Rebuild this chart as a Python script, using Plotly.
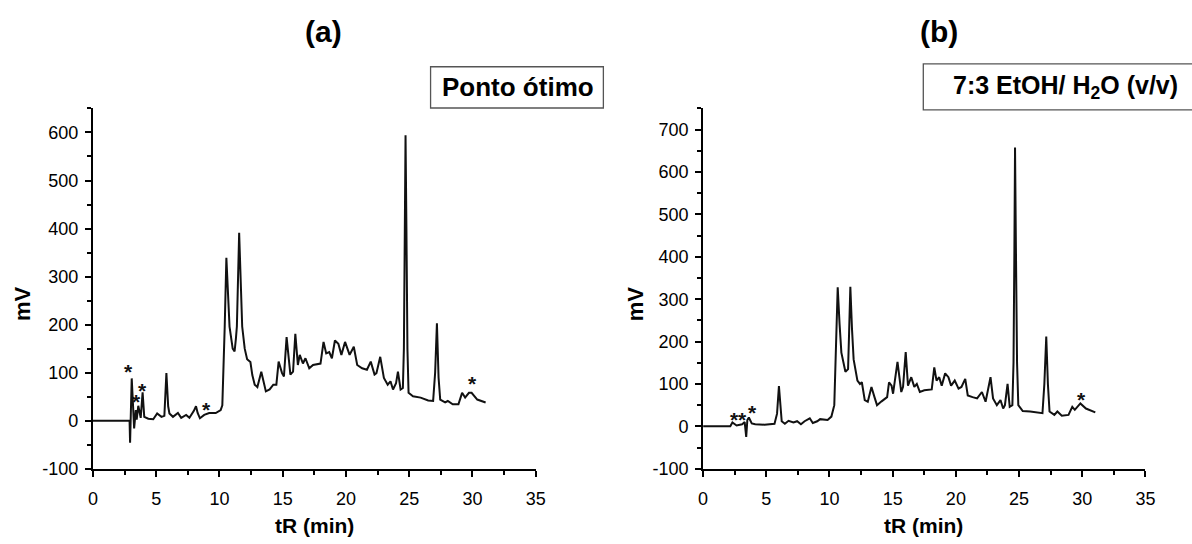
import plotly.graph_objects as go

# Chromatogram (a): optimal extraction point
time_a = [0, 2.9, 2.94, 3.07, 3.26, 3.39, 3.46, 3.59, 3.78, 3.93, 4.06, 4.38, 4.77, 5.08,
          5.42, 5.65, 5.81, 5.95, 6.05, 6.33, 6.72, 6.98, 7.37, 7.63, 7.97, 8.15, 8.28,
          8.46, 8.8, 9.19, 9.71, 10.1, 10.23, 10.33, 10.42, 10.55, 10.68, 10.8, 11.05,
          11.2, 11.3, 11.38, 11.56, 11.68, 11.8, 12.0, 12.19, 12.45, 12.6, 12.79, 13.0,
          13.31, 13.67, 13.97, 14.26, 14.5, 14.68, 14.95, 15.1, 15.31, 15.61, 15.82, 16.0,
          16.2, 16.35, 16.6, 16.8, 17.1, 17.4, 17.99, 18.23, 18.44, 18.68, 18.89, 19.13,
          19.4, 19.64, 19.93, 20.29, 20.62, 20.89, 21.28, 21.66, 21.96, 22.26, 22.41,
          22.71, 23.0, 23.3, 23.52, 23.72, 23.96, 24.11, 24.32, 24.5, 24.58, 24.65, 24.71,
          24.78, 24.86, 24.95, 25.3, 25.9, 26.5, 26.89, 27.05, 27.19, 27.32, 27.45, 27.84,
          28.05, 28.44, 28.89, 29.18, 29.42, 29.72, 29.93, 30.38, 31.04]
signal_a = [0, 0, -46, 88, -16, 22, 2, 31, 6, 59, 8, 4, 3, 15,
            8, 10, 99, 30, 15, 8, 16, 6, 12, 6, 20, 30, 16,
            5, 12, 16, 16, 22, 32, 100, 196, 339, 260, 196, 150,
            144, 170, 196, 391, 280, 196, 150, 128, 122, 95, 75, 70,
            102, 61, 65, 75, 75, 123, 99, 92, 174, 96, 102, 181,
            116, 137, 119, 130, 109, 116, 119, 164, 140, 143, 130, 167,
            160, 137, 164, 137, 154, 116, 109, 106, 123, 96, 99,
            133, 89, 75, 82, 65, 78, 102, 65, 68, 150, 400, 594,
            400, 150, 58, 51, 48, 42, 41, 100, 203, 90, 44, 38,
            41, 34, 34, 58, 48, 58, 58, 44, 38]

# Chromatogram (b): 7:3 EtOH/H2O extract
time_b = [0, 2.15, 2.32, 2.65, 3.09, 3.29, 3.41, 3.5, 3.62, 3.85, 4.12, 4.85, 5.65, 5.85,
          6.0, 6.13, 6.22, 6.47, 6.76, 7.15, 7.44, 7.74, 8.03, 8.44, 8.68, 9.03, 9.26,
          9.85, 10.15, 10.38, 10.5, 10.65, 10.8, 10.94, 11.26, 11.47, 11.55, 11.65, 11.78,
          11.91, 12.21, 12.41, 12.56, 12.79, 13.03, 13.32, 13.56, 13.76, 14.12, 14.41,
          14.56, 14.71, 14.91, 15.03, 15.38, 15.68, 15.82, 16.03, 16.21, 16.47, 16.71,
          16.91, 17.15, 17.5, 18.09, 18.29, 18.47, 18.68, 18.88, 19.15, 19.41, 19.62,
          19.91, 20.21, 20.44, 20.74, 20.94, 21.32, 21.68, 22.06, 22.35, 22.74, 22.94,
          23.24, 23.53, 23.74, 23.88, 24.09, 24.26, 24.47, 24.56, 24.63, 24.68, 24.75,
          24.84, 24.94, 25.29, 25.88, 26.47, 26.85, 27.0, 27.15, 27.28, 27.41, 27.79,
          28.03, 28.38, 28.91, 29.21, 29.41, 29.85, 30.29, 31.03]
signal_b = [0, 0, 9, 2, 5, 10, -25, 15, 21, 7, 5, 4, 6, 30,
            95, 30, 12, 6, 13, 9, 12, 5, 12, 19, 8, 12, 17,
            15, 23, 50, 180, 328, 240, 174, 129, 135, 220, 329, 230,
            158, 108, 100, 104, 62, 58, 93, 69, 50, 59, 66,
            69, 104, 96, 77, 152, 81, 93, 175, 96, 116, 93,
            100, 81, 85, 87, 139, 108, 116, 96, 125, 116, 96,
            108, 89, 93, 112, 73, 69, 66, 81, 58, 116, 66,
            50, 62, 42, 50, 100, 46, 50, 150, 420, 658, 420,
            150, 50, 36, 35, 33, 31, 100, 212, 100, 35, 27,
            35, 25, 27, 46, 39, 54, 42, 33]

# Marked peaks (*)
star_time_a = [2.82, 3.42, 3.92, 8.98, 30.0]
star_signal_a = [111, 49, 71, 32, 85]
star_time_b = [2.45, 3.08, 3.93, 29.94]
star_signal_b = [25, 25, 42, 72]

x_ticks = [0, 5, 10, 15, 20, 25, 30, 35]
y_ticks_a = [-100, 0, 100, 200, 300, 400, 500, 600]
y_ticks_b = [-100, 0, 100, 200, 300, 400, 500, 600, 700]

panel_titles = ["(a)", "(b)"]
panel_labels = ["Ponto ótimo", "7:3 EtOH/ H<sub>2</sub>O (v/v)"]
x_title = "tR (min)"
y_title = "mV"

W, H = 1192, 544
FONT = "Arial, Liberation Sans, sans-serif"
INK = "#111111"


def px_x(p):
    return p / W


def px_y(p):
    return 1 - p / H


fig = go.Figure()
fig.add_trace(go.Scatter(x=time_a, y=signal_a, mode="lines", xaxis="x", yaxis="y",
                         line=dict(color=INK, width=2), showlegend=False))
fig.add_trace(go.Scatter(x=time_b, y=signal_b, mode="lines", xaxis="x2", yaxis="y2",
                         line=dict(color=INK, width=2), showlegend=False))

axis_common = dict(showgrid=False, zeroline=False, showline=True, linecolor="black",
                   linewidth=2, ticks="outside", ticklen=6, tickwidth=1.6, tickcolor="black",
                   tickfont=dict(family=FONT, size=18, color="black"), fixedrange=True)

minor_x = dict(ticks="outside", ticklen=4, tickwidth=1.6, dtick=2.5, tickcolor="black",
               showgrid=False)
minor_y = dict(ticks="outside", ticklen=4, tickwidth=1.6, dtick=50, tickcolor="black",
               showgrid=False)

xaxis_common = dict(axis_common, range=[0, 35], tickmode="array", tickvals=x_ticks,
                    ticktext=[str(v) for v in x_ticks], ticklabelstandoff=7, minor=minor_x)

ydom = [px_y(477.5), px_y(110.5)]
fig.update_layout(
    width=W, height=H,
    margin=dict(l=0, r=0, t=0, b=0),
    paper_bgcolor="white", plot_bgcolor="white",
    xaxis=dict(xaxis_common, domain=[px_x(89), px_x(537.5)], anchor="y"),
    yaxis=dict(axis_common, domain=ydom, anchor="x", range=[-100, 650], tickmode="array",
               tickvals=y_ticks_a, ticktext=[str(v) for v in y_ticks_a],
               ticklabelstandoff=3, minor=dict(minor_y, tick0=-100)),
    xaxis2=dict(xaxis_common, domain=[px_x(707), px_x(1155)], anchor="y2"),
    yaxis2=dict(axis_common, domain=ydom, anchor="x2", range=[-100, 750], tickmode="array",
                tickvals=y_ticks_b, ticktext=[str(v) for v in y_ticks_b],
                ticklabelstandoff=3, minor=dict(minor_y, tick0=-100)),
)

annotations = []

# asterisks marking peaks
for xs, ys, xr, yr in [(star_time_a, star_signal_a, "x", "y"),
                       (star_time_b, star_signal_b, "x2", "y2")]:
    for t, v in zip(xs, ys):
        annotations.append(dict(x=t, y=v, xref=xr, yref=yr, text="<b>*</b>", showarrow=False,
                                xanchor="center", yanchor="middle", yshift=-4,
                                font=dict(family=FONT, size=21, color=INK)))

# panel titles
for cx, txt in zip([323, 946], panel_titles):
    annotations.append(dict(x=px_x(cx), y=px_y(32), xref="paper", yref="paper", text=f"<b>{txt}</b>",
                            showarrow=False, xanchor="center", yanchor="middle",
                            font=dict(family=FONT, size=30, color="black")))

# boxed sample labels (frames drawn as shapes, the right one runs past the edge)
shapes = [
    dict(type="rect", xref="paper", yref="paper", x0=px_x(431), x1=px_x(606),
         y0=px_y(110), y1=px_y(68), line=dict(color="#555555", width=1.3),
         fillcolor="white", layer="above"),
    dict(type="rect", xref="paper", yref="paper", x0=px_x(930), x1=px_x(1210),
         y0=px_y(112), y1=px_y(65), line=dict(color="#555555", width=1.3),
         fillcolor="white", layer="above"),
]
annotations.append(dict(x=px_x(519.5), y=px_y(89), xref="paper", yref="paper",
                        text=f"<b>{panel_labels[0]}</b>", showarrow=False,
                        xanchor="center", yanchor="middle",
                        font=dict(family=FONT, size=26, color="black")))
annotations.append(dict(x=px_x(1074), y=px_y(89), xref="paper", yref="paper",
                        text=f"<b>{panel_labels[1]}</b>", showarrow=False,
                        xanchor="center", yanchor="middle",
                        font=dict(family=FONT, size=25, color="black")))

# axis titles
for cx in [313, 930]:
    annotations.append(dict(x=px_x(cx), y=px_y(535), xref="paper", yref="paper",
                            text=f"<b>{x_title}</b>", showarrow=False, xanchor="center",
                            yanchor="middle", font=dict(family=FONT, size=21, color="black")))
for cx in [18, 638]:
    annotations.append(dict(x=px_x(cx), y=px_y(309), xref="paper", yref="paper",
                            text=f"<b>{y_title}</b>", showarrow=False, xanchor="center",
                            yanchor="middle", textangle=-90,
                            font=dict(family=FONT, size=22, color="black")))

fig.update_layout(annotations=annotations, shapes=shapes)

fig.write_html("out.html")
